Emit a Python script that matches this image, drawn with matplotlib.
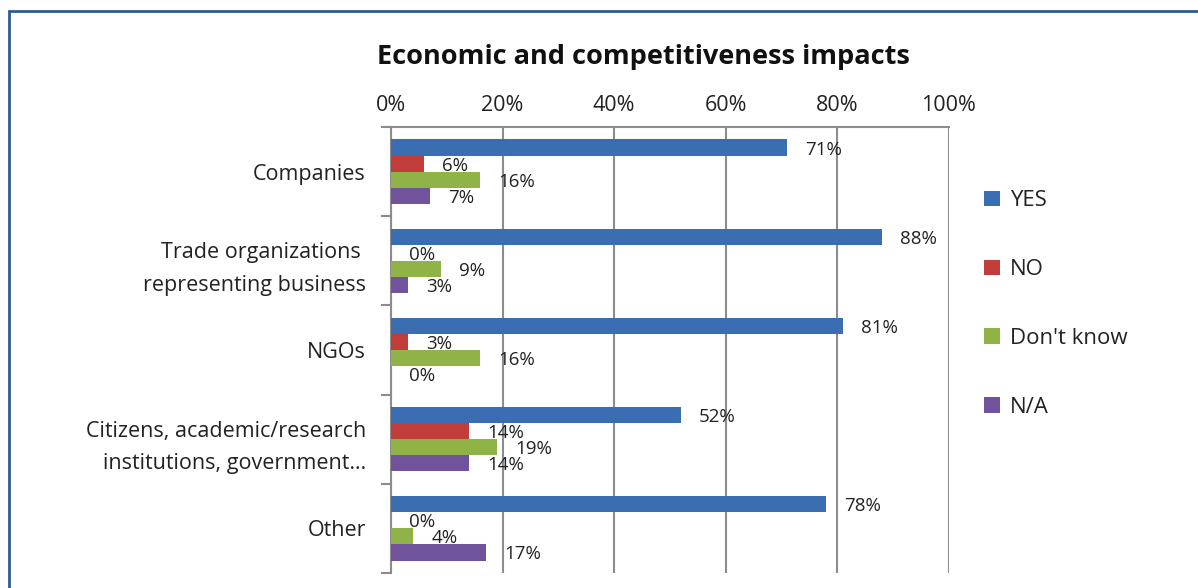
import matplotlib
matplotlib.use("Agg")
import matplotlib.pyplot as plt
from matplotlib.patches import Rectangle
import numpy as np

categories = ["Companies", "Trade organizations \nrepresenting business", "NGOs",
              "Citizens, academic/research\ninstitutions, government…", "Other"]
series_names = ["YES", "NO", "Don't know", "N/A"]
yes_vals = [71, 88, 81, 52, 78]
no_vals = [6, 0, 3, 14, 0]
dk_vals = [16, 9, 16, 19, 4]
na_vals = [7, 3, 0, 14, 17]
x_ticks = [0, 20, 40, 60, 80, 100]
x_tick_labels = ["0%", "20%", "40%", "60%", "80%", "100%"]
title = "Economic and competitiveness impacts"

colors = ["#3A6DB2", "#C03D3A", "#8FB347", "#71539C"]
series = [yes_vals, no_vals, dk_vals, na_vals]

plt.rcParams['font.family'] = ['Open Sans', 'DejaVu Sans']

W, H = 1198, 588
fig = plt.figure(figsize=(W / 100, H / 100), dpi=100)
ax = fig.add_axes([391 / W, 1 - 573 / H, (948.8 - 391) / W, (573 - 127) / H])

n = len(categories)
bh = 0.18
y0 = np.arange(n)
for i, (vals, name, c) in enumerate(zip(series, series_names, colors)):
    ys = y0 - 1.5 * bh + i * bh
    ax.barh(ys, vals, height=bh, color=c, label=name, zorder=3)
    for y, v in zip(ys, vals):
        ax.annotate(f"{v}%", (v, y), xytext=(18, -2), textcoords="offset pixels",
                    ha="left", va="center", fontsize=13.5, color="#222222", zorder=4)

ax.set_ylim(n - 0.5, -0.5)
ax.set_xlim(0, 100)
ax.xaxis.tick_top()
ax.set_xticks(x_ticks)
ax.set_xticklabels(x_tick_labels, fontsize=15.5, color="#222222")
ax.tick_params(axis="x", length=0, pad=8)
ax.set_yticks(y0)
ax.set_yticklabels(categories, fontsize=15.5, color="#222222", linespacing=1.7)
ax.set_yticks(np.arange(n + 1) - 0.5, minor=True)
ax.tick_params(axis="y", which="major", length=0, pad=18)
ax.tick_params(axis="y", which="minor", length=7, width=1.5, color="#8C8C8C")
ax.grid(axis="x", color="#8C8C8C", linewidth=1.5, zorder=0)
for s in ["bottom", "right"]:
    ax.spines[s].set_visible(False)
for s in ["left", "top"]:
    ax.spines[s].set_color("#8C8C8C")
    ax.spines[s].set_linewidth(1.5)

fig.text(643 / W, 1 - 57 / H, title, ha="center", va="center", fontsize=19.5,
         fontweight="bold", color="#111111")

handles, labels = ax.get_legend_handles_labels()
leg = fig.legend(handles, labels, loc="center left", bbox_to_anchor=(964 / W, 1 - 304 / H),
                 frameon=False, fontsize=16, labelspacing=2.15, handlelength=0.7,
                 handleheight=0.7, handletextpad=0.45, labelcolor="#222222")

fig.patches.append(Rectangle((9 / W, -0.1), 1.2, (1 - 11 / H) + 0.1, transform=fig.transFigure,
                             fill=False, edgecolor="#2F5B8E", linewidth=2))

fig.savefig("out.png", dpi=100)
